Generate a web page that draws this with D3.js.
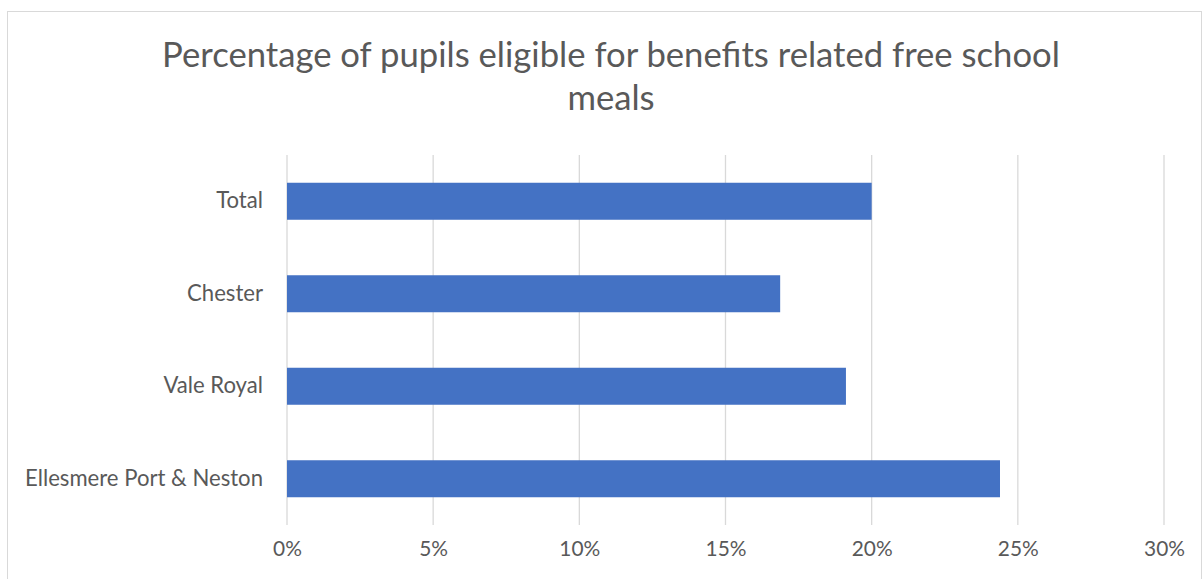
<html>
<head>
<meta charset="utf-8">
<style>
    body { margin: 0; background: white; font-family: Lato, "Open Sans", sans-serif; }
    svg { display: block; }
</style>
<script src="https://d3js.org/d3.v7.min.js"></script>
</head>
<body>
<svg id="chart"></svg>
<script>
    // data
    let categories = ["Total", "Chester", "Vale Royal", "Ellesmere Port & Neston"]
    let values = [0.2000, 0.1687, 0.1912, 0.2439]
    let tickValues = [0, 0.05, 0.10, 0.15, 0.20, 0.25, 0.30]
    let titleLines = ["Percentage of pupils eligible for benefits related free school", "meals"]

    let width = 1203, height = 579
    let margin = { top: 155, bottom: 54, left: 287, right: 39 }
    let textColor = "#595959"

    let svg = d3.select("#chart").attr("width", width).attr("height", height)

    // chart border
    svg.append("rect")
        .attr("x", 7.5).attr("y", 11.5)
        .attr("width", 1194).attr("height", 580)
        .attr("fill", "none").attr("stroke", "#d9d9d9")

    let xScale = d3.scaleLinear()
        .domain([0, 0.30])
        .range([margin.left, width - margin.right])

    let yScale = d3.scaleBand()
        .domain(categories)
        .range([margin.top, height - margin.bottom])
        .paddingInner(0.6)
        .paddingOuter(0.3)

    // scale a font size so that one text spans the width seen in the picture
    function fittedSize(node, size, target) {
        let w = node.getComputedTextLength()
        return size * target / w
    }

    // gridlines
    svg.append("g")
        .selectAll("line").data(tickValues).enter().append("line")
        .attr("x1", d => xScale(d)).attr("x2", d => xScale(d))
        .attr("y1", margin.top).attr("y2", height - margin.bottom)
        .attr("stroke", "#d9d9d9").attr("stroke-width", 1.3)

    // bars
    svg.append("g")
        .selectAll("rect").data(categories).enter().append("rect")
        .attr("x", xScale(0))
        .attr("y", d => yScale(d))
        .attr("width", (d, i) => xScale(values[i]) - xScale(0))
        .attr("height", yScale.bandwidth())
        .attr("fill", "#4472c4")

    // x axis labels
    let axisX = d3.axisBottom(xScale)
        .tickValues(tickValues)
        .tickFormat(d3.format(".0%"))
        .tickSize(0)
        .tickPadding(0)
    let gx = svg.append("g")
        .attr("transform", `translate(0,${height - margin.bottom})`)
        .call(axisX)
    gx.select(".domain").remove()
    gx.selectAll("text")
        .attr("font-family", "Lato, 'Open Sans', sans-serif")
        .attr("font-size", 18)
        .attr("fill", textColor)
        .attr("y", 24)
        .attr("dy", "0.35em")
    let sizeTick = 18
    gx.selectAll("text").filter(d => d === 0.20).each(function () {
        sizeTick = fittedSize(this, 18, 41)
    })
    gx.selectAll("text").attr("font-size", sizeTick)

    // y axis labels
    let axisY = d3.axisLeft(yScale).tickSize(0).tickPadding(24)
    let gy = svg.append("g")
        .attr("transform", `translate(${margin.left},0)`)
        .call(axisY)
    gy.select(".domain").remove()
    gy.selectAll("text")
        .attr("font-family", "Lato, 'Open Sans', sans-serif")
        .attr("font-size", 18)
        .attr("fill", textColor)
    let sizeCat = 18
    gy.selectAll("text").filter(d => d === "Ellesmere Port & Neston").each(function () {
        sizeCat = fittedSize(this, 18, 238)
    })
    gy.selectAll("text").attr("font-size", sizeCat)

    // title
    let title = svg.append("g")
    title.selectAll("text").data(titleLines).enter().append("text")
        .attr("x", 611)
        .attr("y", (d, i) => 67 + i * 43)
        .attr("text-anchor", "middle")
        .attr("font-family", "Lato, 'Open Sans', sans-serif")
        .attr("font-size", 34)
        .attr("fill", textColor)
        .text(d => d)
    let sizeTitle = fittedSize(title.select("text").node(), 34, 898)
    title.selectAll("text").attr("font-size", sizeTitle)
</script>
</body>
</html>
